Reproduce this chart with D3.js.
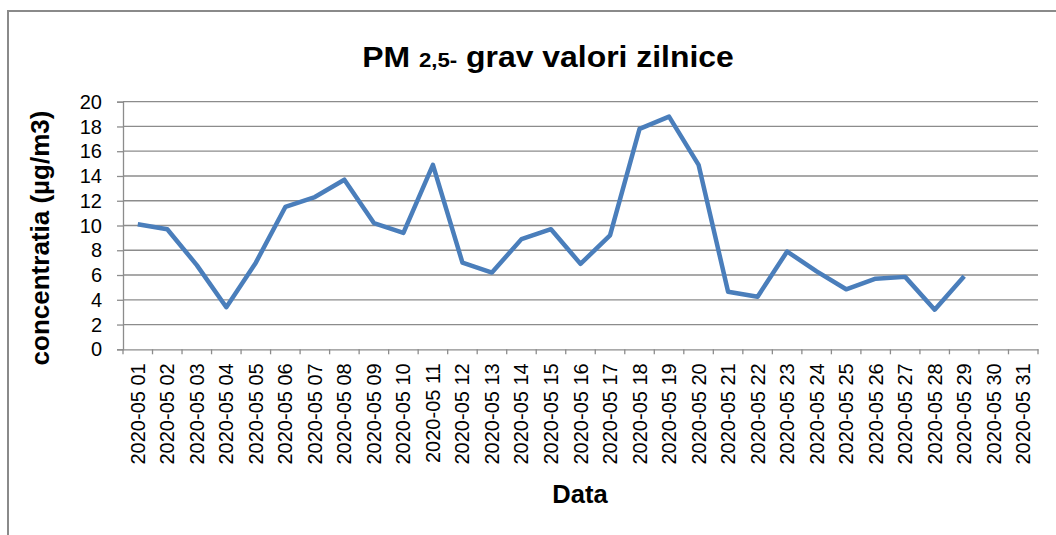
<!DOCTYPE html>
<meta charset="utf-8">
<title>PM 2,5 grav valori zilnice</title>
<style>
  body { margin: 0; background: #fff; }
  svg { font-family: "Liberation Sans", Arial, sans-serif; }
  .axis path, .axis line { stroke: #8c8c8c; stroke-width: 1.3px; }
  .axis text { font-size: 20px; fill: #000; }
  .grid line { stroke: #8c8c8c; stroke-width: 1.3px; }
  text.title { font-size: 28px; font-weight: bold; }
  text.axlabel { font-weight: bold; }
</style>
<script src="https://cdn.jsdelivr.net/npm/d3@7"></script>
<div id="chart"></div>
<script>
// data
var days = ["2020-05 01", "2020-05 02", "2020-05 03", "2020-05 04", "2020-05 05",
  "2020-05 06", "2020-05 07", "2020-05 08", "2020-05 09", "2020-05 10",
  "2020-05 11", "2020-05 12", "2020-05 13", "2020-05 14", "2020-05 15",
  "2020-05 16", "2020-05 17", "2020-05 18", "2020-05 19", "2020-05 20",
  "2020-05 21", "2020-05 22", "2020-05 23", "2020-05 24", "2020-05 25",
  "2020-05 26", "2020-05 27", "2020-05 28", "2020-05 29", "2020-05 30",
  "2020-05 31"];
var pm25 = [10.1, 9.7, 6.8, 3.4, 7.0, 11.5, 12.3, 13.7, 10.2, 9.4,
  14.9, 7.0, 6.2, 8.9, 9.7, 6.9, 9.2, 17.8, 18.8, 14.9,
  4.65, 4.25, 7.9, 6.3, 4.85, 5.7, 5.85, 3.2, 5.9, null, null];
var yTicks = [0, 2, 4, 6, 8, 10, 12, 14, 16, 18, 20];

var W = 1056, H = 535;
var margin = {top: 101.7, right: 18, bottom: 185.7, left: 123},
    width = W - margin.left - margin.right,
    height = H - margin.top - margin.bottom;

var svg = d3.select("#chart").append("svg")
    .attr("width", W)
    .attr("height", H);

// outer chart border (runs off the right and bottom edges)
svg.append("rect")
    .attr("x", 8).attr("y", 11)
    .attr("width", W).attr("height", H)
    .attr("fill", "none")
    .attr("stroke", "#8a8a8a")
    .attr("stroke-width", 2);

var g = svg.append("g")
    .attr("transform", "translate(" + margin.left + "," + margin.top + ")");

var x = d3.scaleBand().domain(days).range([0, width]);
var y = d3.scaleLinear().domain([0, 20]).range([height, 0]);

// horizontal gridlines
g.append("g").attr("class", "grid")
  .selectAll("line")
  .data(yTicks.filter(function(d) { return d > 0; }))
  .enter().append("line")
    .attr("x1", 0).attr("x2", width)
    .attr("y1", function(d) { return y(d); })
    .attr("y2", function(d) { return y(d); });

// y axis
var yAxis = g.append("g").attr("class", "axis")
    .call(d3.axisLeft(y).tickValues(yTicks).tickSize(6).tickPadding(15));
yAxis.selectAll("text").attr("dy", "0.33em");

// x axis: ticks between categories, labels rotated
var xAxis = g.append("g").attr("class", "axis")
    .attr("transform", "translate(0," + height + ")")
    .call(d3.axisBottom(x).tickSize(0).tickPadding(0));
xAxis.selectAll(".tick line").remove();
xAxis.selectAll(".tick text")
    .attr("transform", "rotate(-90)")
    .attr("x", -14)
    .attr("y", 0)
    .attr("dy", "0.35em")
    .style("text-anchor", "end");
xAxis.selectAll("line.sep")
  .data(d3.range(days.length + 1))
  .enter().append("line")
    .attr("class", "sep")
    .attr("x1", function(i) { return i * x.step(); })
    .attr("x2", function(i) { return i * x.step(); })
    .attr("y1", 0).attr("y2", 5);

// the series
var pts = days.map(function(d, i) { return {day: d, v: pm25[i]}; });
var line = d3.line()
    .defined(function(d) { return d.v != null; })
    .x(function(d) { return x(d.day) + x.bandwidth() / 2; })
    .y(function(d) { return y(d.v); });

g.append("path")
    .datum(pts)
    .attr("fill", "none")
    .attr("stroke", "#4a7ebb")
    .attr("stroke-width", 4.5)
    .attr("stroke-linejoin", "round")
    .attr("d", line);

// title, with the smaller "2,5-"
var title = svg.append("text")
    .attr("class", "title")
    .attr("text-anchor", "middle")
    .attr("transform", "translate(548,66.7) scale(1.14,1.05)");
title.append("tspan").text("PM ");
title.append("tspan").style("font-size", "19.5px").text("2,5-");
title.append("tspan").text(" grav valori zilnice");

svg.append("text")
    .attr("class", "axlabel")
    .attr("transform", "translate(49,238) rotate(-90)")
    .attr("text-anchor", "middle")
    .style("font-size", "26px")
    .text("concentratia (µg/m3)");

svg.append("text")
    .attr("class", "axlabel")
    .attr("x", 580).attr("y", 503)
    .attr("text-anchor", "middle")
    .style("font-size", "25.5px")
    .text("Data");
</script>
